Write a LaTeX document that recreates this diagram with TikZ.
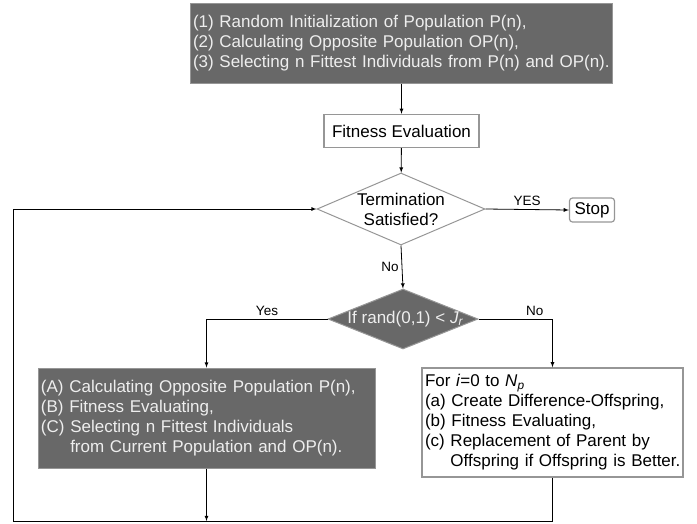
\documentclass[tikz,border=0pt]{standalone}
\usepackage{fontspec}
\setmainfont{Liberation Sans}
\usetikzlibrary{shapes.geometric}

\definecolor{boxgray}{RGB}{104,104,104}
\definecolor{edgegray}{RGB}{150,150,150}
\definecolor{textgray}{RGB}{238,238,238}

\begin{document}
\begin{tikzpicture}[x=1pt,y=-1pt,
    every node/.style={font=\fontsize{17}{20}\selectfont},
    darkbox/.style={rectangle,fill=boxgray,draw=edgegray,line width=1pt,text=textgray,align=left,inner sep=3pt},
    whitebox/.style={rectangle,fill=white,draw=edgegray,line width=1.4pt,align=left,inner sep=3pt},
    decision/.style={diamond,draw=edgegray,line width=1pt,inner sep=0pt,aspect=2.33},
    stopbox/.style={rectangle,rounded corners=3pt,draw=edgegray,line width=1.2pt,inner sep=2pt},
    lbl/.style={font=\fontsize{13.5}{15}\selectfont,inner sep=3pt},
    flow/.style={-latex,line width=0.8pt}]

        \useasboundingbox (0,0) rectangle (697,523);

        \node[darkbox,minimum width=422pt,minimum height=80pt,text width=416pt] (init) at (401,43) {
            \begin{tabular}{@{}l@{}}
            (1) Random Initialization of Population P(n),\\
            (2) Calculating Opposite Population OP(n),\\
            (3) Selecting n Fittest Individuals from P(n) and OP(n).
            \end{tabular}
        };

        \node[whitebox,minimum width=155pt,minimum height=33pt,align=center] (fitness) at (401.5,131) {Fitness Evaluation};

        \node[decision,minimum width=168pt,minimum height=72pt,align=center] (term) at (401,209) {Termination\\Satisfied?};
        \node[stopbox,minimum width=45pt,minimum height=24pt] (stop) at (592,210) {Stop};

        \node[decision,fill=boxgray,text=textgray,minimum width=150pt,minimum height=60pt] (jump) at (403,319) {\makebox[40pt]{\hspace{5pt}If rand(0,1) < \textit{J}\textsubscript{\textit{r}}}};

        \node[darkbox,minimum width=337pt,minimum height=100pt,text width=331pt] (opp) at (206.5,418) {
            \begin{tabular}{@{}l@{}}
            (A) Calculating Opposite Population P(n),\\
            (B) Fitness Evaluating,\\
            (C) Selecting n Fittest Individuals\\
            \phantom{(C) }from Current Population and OP(n).
            \end{tabular}
        };
        \node[whitebox,minimum width=261pt,minimum height=109pt,text width=255pt] (de) at (552.5,422.5) {
            \begin{tabular}{@{}l@{}}
            For \textit{i}=0 to \textit{N}\textsubscript{\textit{p}}\\
            (a) Create Difference-Offspring,\\
            (b) Fitness Evaluating,\\
            (c) Replacement of Parent by\\
            \phantom{(c) }Offspring if Offspring is Better.
            \end{tabular}
        };

        \coordinate (loop) at (13,521);

        \draw[flow] (init.south -| fitness.north) -- (fitness.north);
        \draw[flow] (fitness) -- (term);
        \draw[flow] (term.east) -- node[lbl,above] {YES} (stop.west);
        \draw[flow] (term.south) -- node[lbl,left] {No} (jump.north);
        \draw[flow] (jump.west) -| node[lbl,pos=0.25,above] {Yes} (opp.north);
        \draw[flow] (jump.east) -| node[lbl,pos=0.38,above] {No} (de.north);

        \draw[flow] (opp.south) -- (opp.south |- loop);
        \draw[flow] (de.south) |- (loop) -- (loop |- term.west) -- (term.west);
    \end{tikzpicture}
\end{document}
